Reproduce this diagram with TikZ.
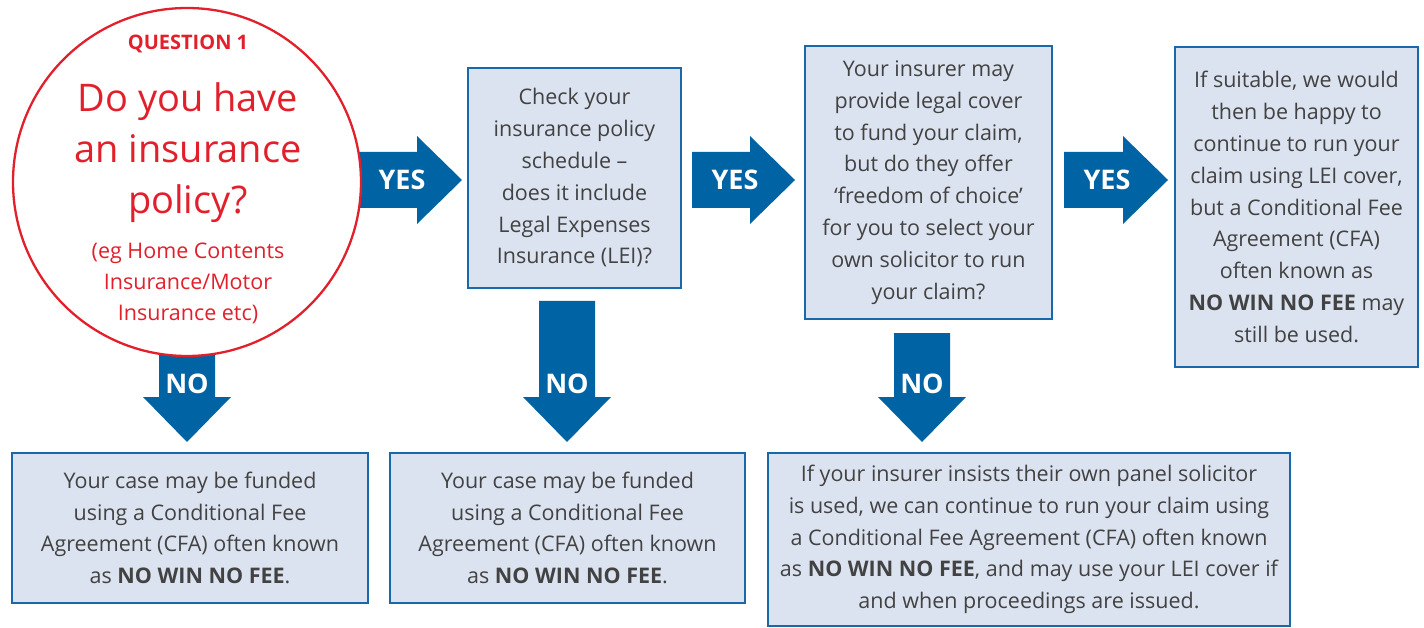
\documentclass[tikz,border=0pt]{standalone}
\usepackage{fontspec}
\setmainfont{Open Sans}
\definecolor{arrowblue}{RGB}{0,99,163}
\definecolor{boxblue}{RGB}{24,104,170}
\definecolor{boxfill}{RGB}{220,227,240}
\definecolor{qred}{RGB}{226,32,44}
\definecolor{textgray}{RGB}{66,66,66}
% block arrows: (shaft start : head base : tip) and (centre : shaft top)
\def\yesarrow(#1:#2:#3){\fill[arrowblue] (#1,152) -- (#2,152) -- (#2,136) -- (#3,180) -- (#2,224) -- (#2,208) -- (#1,208) -- cycle;}
\def\noarrow(#1:#2){\fill[arrowblue] ({#1-28},#2) -- ({#1+28},#2) -- ({#1+28},397) -- ({#1+44},397) -- (#1,442) -- ({#1-44},397) -- ({#1-28},397) -- cycle;}

\begin{document}
\begin{tikzpicture}[x=1pt, y=-1pt,
		infobox/.style={draw=boxblue, line width=2.5pt, fill=boxfill, text=textgray, align=center, inner sep=0pt, font=\fontsize{21.5}{31.8}\selectfont},
		arrowtext/.style={text=white, font=\bfseries\fontsize{27}{30}\selectfont, inner sep=0pt},
		redtext/.style={text=qred, align=center, inner sep=0pt}]
		%%%%% START %%%%%
		\useasboundingbox (0, 0) rectangle (1424, 628);
		
		\yesarrow(340:417:462);
		\noarrow(187:330);
		
		\node[draw=qred, line width=2.3pt, fill=white, circle, minimum size=348] (question) at (187, 182) {};
		\node[redtext, font=\bfseries\fontsize{20}{24}\selectfont, anchor=base] (qnum) at (188, 50) {QUESTION 1};
		\node[redtext, font=\fontsize{38}{51}\selectfont] (qtext) at (188, 153) {Do you have\\an insurance\\policy?};
		\node[redtext, font=\fontsize{21.5}{31}\selectfont] (qnote) at (188, 283) {(eg Home Contents\\Insurance/Motor\\Insurance etc)};
		\node[arrowtext] (yes1) at (402, 180) {YES};
		\node[arrowtext] (no1) at (187, 384) {NO};
		
		\node[infobox, minimum width=213, minimum height=220] (check) at (574.5, 178) {Check your\\insurance policy\\schedule --\\does it include\\Legal Expenses\\Insurance (LEI)?};
		
		\yesarrow(692:750:795);
		\node[arrowtext] (yes2) at (735, 180) {YES};
		\noarrow(567:301);
		\node[arrowtext] (no2) at (567, 384) {NO};
		
		\node[infobox, minimum width=247, minimum height=273] (insurer) at (928.5, 182.5) {Your insurer may\\provide legal cover\\to fund your claim,\\but do they offer\\`freedom of choice'\\for you to select your\\own solicitor to run\\your claim?};
		
		\yesarrow(1064:1123:1168);
		\node[arrowtext] (yes3) at (1107, 180) {YES};
		\noarrow(922:333);
		\node[arrowtext] (no3) at (922, 384) {NO};
		
		\node[infobox, minimum width=243, minimum height=320] (suitable) at (1296.5, 207) {If suitable, we would\\then be happy to\\continue to run your\\claim using LEI cover,\\but a Conditional Fee\\Agreement (CFA)\\often known as\\\textbf{NO WIN NO FEE} may\\still be used.};
		
		\node[infobox, minimum width=356, minimum height=150] (funded1) at (190, 528) {Your case may be funded\\using a Conditional Fee\\Agreement (CFA) often known\\as \textbf{NO WIN NO FEE}.};
		\node[infobox, minimum width=355, minimum height=150] (funded2) at (567.5, 528) {Your case may be funded\\using a Conditional Fee\\Agreement (CFA) often known\\as \textbf{NO WIN NO FEE}.};
		\node[infobox, minimum width=522, minimum height=173] (panel) at (1029, 539.5) {If your insurer insists their own panel solicitor\\is used, we can continue to run your claim using\\a Conditional Fee Agreement (CFA) often known\\as \textbf{NO WIN NO FEE}, and may use your LEI cover if\\and when proceedings are issued.};
		
		%%%%% END %%%%%
	\end{tikzpicture}
\end{document}
